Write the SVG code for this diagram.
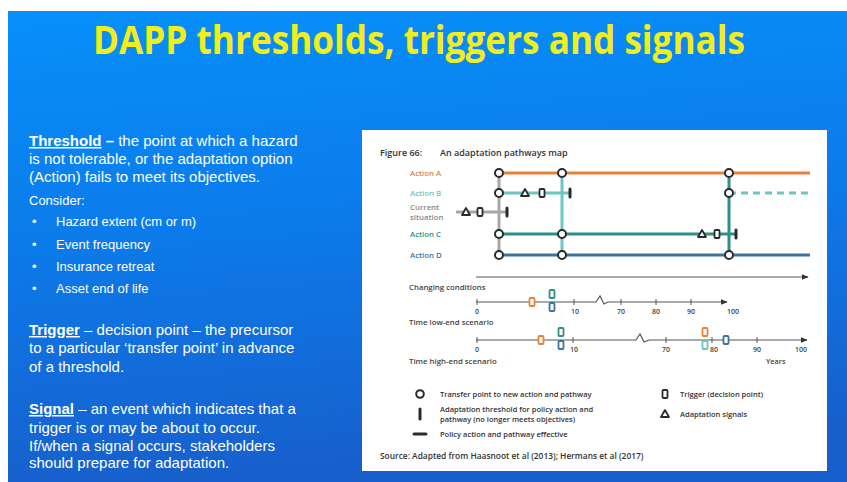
<svg xmlns="http://www.w3.org/2000/svg" width="847" height="482" viewBox="0 0 847 482">
  <defs>
    <linearGradient id="bg" x1="0" y1="0" x2="0.15" y2="1">
      <stop offset="0" stop-color="#0690fb"/>
      <stop offset="0.5" stop-color="#0c7ae9"/>
      <stop offset="1" stop-color="#1760cc"/>
    </linearGradient>
    <marker id="arr" viewBox="0 0 10 10" refX="9" refY="5" markerWidth="7" markerHeight="7" orient="auto" markerUnits="userSpaceOnUse">
      <path d="M0,1 L10,5 L0,9 Z" fill="#333"/>
    </marker>
  </defs>
  <style>
    .title { font-family: "Open Sans", "Liberation Sans", sans-serif; font-weight: bold; fill: #f2ee1c; }
    .body { font-family: "Liberation Sans", Arial, sans-serif; fill: #ffffff; }
    .fig { font-family: "Open Sans", "Liberation Sans", sans-serif; font-weight: 600; fill: #333; }
    .axis { font-family: "Open Sans", "Liberation Sans", sans-serif; font-weight: 600; fill: #444; }
    .tp { fill: #fff; stroke: #2b2b2b; stroke-width: 2; }
    .trig { fill: #fff; stroke: #2b2b2b; stroke-width: 1.8; }
    .sig { fill: #fff; stroke: #2b2b2b; stroke-width: 1.8; stroke-linejoin: round; }
    .thr { stroke: #2b2b2b; stroke-width: 3; stroke-linecap: round; }
    .ax { stroke: #555; stroke-width: 1.2; fill: none; }
    .tick { stroke: #555; stroke-width: 1; }
  </style>

  <!-- slide background -->
  <rect x="0" y="0" width="847" height="482" fill="#ffffff"/>
  <rect x="8" y="11" width="839" height="471" fill="url(#bg)"/>

  <text class="title" x="93" y="54" font-size="39" textLength="652" lengthAdjust="spacingAndGlyphs">DAPP thresholds, triggers and signals</text>

  <!-- left column text -->
  <g id="threshold-text" class="body" font-size="15">
    <text x="29" y="146"><tspan font-weight="bold" text-decoration="underline">Threshold</tspan><tspan font-weight="bold"> –</tspan> the point at which a hazard</text>
    <text x="29" y="164">is not tolerable, or the adaptation option</text>
    <text x="29" y="182">(Action) fails to meet its objectives.</text>
    <text x="29" y="205" font-size="13">Consider:</text>
    <g font-size="13">
      <text x="32" y="226">•</text><text x="56" y="226">Hazard extent (cm or m)</text>
      <text x="32" y="249">•</text><text x="56" y="249">Event frequency</text>
      <text x="32" y="271">•</text><text x="56" y="271">Insurance retreat</text>
      <text x="32" y="293">•</text><text x="56" y="293">Asset end of life</text>
    </g>
  </g>
  <g id="trigger-text" class="body" font-size="15">
    <text x="29" y="335"><tspan font-weight="bold" text-decoration="underline">Trigger</tspan> – decision point – the precursor</text>
    <text x="29" y="353">to a particular ‘transfer point’ in advance</text>
    <text x="29" y="372">of a threshold.</text>
  </g>
  <g id="signal-text" class="body" font-size="15">
    <text x="29" y="414"><tspan font-weight="bold" text-decoration="underline">Signal</tspan> – an event which indicates that a</text>
    <text x="29" y="433">trigger is or may be about to occur.</text>
    <text x="29" y="451">If/when a signal occurs, stakeholders</text>
    <text x="29" y="468">should prepare for adaptation.</text>
  </g>

  <!-- figure panel -->
  <g id="figure">
    <rect x="362" y="130" width="465" height="341" fill="#ffffff"/>
    <text class="fig" x="380" y="156" font-size="9" font-weight="bold">Figure 66:</text>
    <text class="fig" x="440" y="156" font-size="9" font-weight="bold">An adaptation pathways map</text>

    <!-- row labels -->
    <g class="fig" font-size="7.8">
      <text x="410" y="176" fill="#e8823a">Action A</text>
      <text x="410" y="196" fill="#6cc6c2">Action B</text>
      <text x="410" y="210" fill="#888">Current</text>
      <text x="410" y="220" fill="#888">situation</text>
      <text x="410" y="237" fill="#2c8f88">Action C</text>
      <text x="410" y="258" fill="#3b74a0">Action D</text>
    </g>

    <!-- pathway lines -->
    <g id="connectors" fill="none" stroke-width="3">
      <line x1="456" y1="212" x2="506" y2="212" stroke="#a6a6a6"/>
      <line x1="499" y1="173" x2="499" y2="255" stroke="#a6a6a6"/>
      <line x1="562" y1="173" x2="562" y2="255" stroke="#6cc6c2"/>
      <line x1="729" y1="173" x2="729" y2="255" stroke="#2c8f88"/>
      <line x1="499" y1="173" x2="810" y2="173" stroke="#e8823a"/>
      <line x1="499" y1="193" x2="569" y2="193" stroke="#6cc6c2"/>
      <line x1="729" y1="193" x2="810" y2="193" stroke="#6cc6c2" stroke-dasharray="7 5"/>
      <line x1="499" y1="234" x2="736" y2="234" stroke="#2c8f88"/>
      <line x1="499" y1="255" x2="810" y2="255" stroke="#3b74a0"/>
    </g>

    <!-- signals, triggers, thresholds on rows -->
    <g id="current-markers">
      <path class="sig" d="M466,208 L470,215 L462,215 Z"/>
      <rect class="trig" x="477.5" y="208" width="5" height="8" rx="1"/>
      <line class="thr" x1="507" y1="208" x2="507" y2="216"/>
    </g>
    <g id="actionB-markers">
      <path class="sig" d="M525,189 L529,196 L521,196 Z"/>
      <rect class="trig" x="539.5" y="189" width="5" height="8" rx="1"/>
      <line class="thr" x1="570" y1="189" x2="570" y2="197"/>
    </g>
    <g id="actionC-markers">
      <path class="sig" d="M702,230 L706,237 L698,237 Z"/>
      <rect class="trig" x="714.5" y="230" width="5" height="8" rx="1"/>
      <line class="thr" x1="736" y1="230" x2="736" y2="238"/>
    </g>

    <!-- transfer points -->
    <g id="transfer-points">
      <circle class="tp" cx="499" cy="173" r="4"/>
      <circle class="tp" cx="499" cy="193" r="4"/>
      <circle class="tp" cx="499" cy="234" r="4"/>
      <circle class="tp" cx="499" cy="255" r="4"/>
      <circle class="tp" cx="562" cy="173" r="4"/>
      <circle class="tp" cx="562" cy="234" r="4"/>
      <circle class="tp" cx="562" cy="255" r="4"/>
      <circle class="tp" cx="729" cy="173" r="4"/>
      <circle class="tp" cx="729" cy="193" r="4"/>
      <circle class="tp" cx="729" cy="255" r="4"/>
    </g>

    <!-- changing conditions -->
    <g id="changing-conditions">
      <line class="ax" x1="476" y1="277" x2="808" y2="277" marker-end="url(#arr)"/>
      <text class="axis" x="409" y="290" font-size="7.8">Changing conditions</text>
    </g>

    <!-- low-end time axis -->
    <g id="time-low">
      <path class="ax" d="M476,302 L596,302 L600,296 L604,304 L608,302 L727,302" marker-end="url(#arr)"/>
      <g class="tick">
        <line x1="477" y1="299" x2="477" y2="305"/>
        <line x1="574" y1="299" x2="574" y2="305"/>
        <line x1="621" y1="299" x2="621" y2="305"/>
        <line x1="656" y1="299" x2="656" y2="305"/>
        <line x1="691" y1="299" x2="691" y2="305"/>
      </g>
      <g class="axis" text-anchor="middle" font-size="7">
        <text x="477" y="314">0</text>
        <text x="575" y="314">10</text>
        <text x="621" y="314">70</text>
        <text x="656" y="314">80</text>
        <text x="691" y="314">90</text>
        <text x="733" y="314">100</text>
      </g>
      <rect x="529.5" y="298" width="5" height="8" rx="1" fill="#fff" stroke="#e8823a" stroke-width="1.8"/>
      <rect x="549.5" y="290" width="5" height="8" rx="1" fill="#fff" stroke="#2c8f88" stroke-width="1.8"/>
      <rect x="549.5" y="303" width="5" height="8" rx="1" fill="#fff" stroke="#3b74a0" stroke-width="1.8"/>
      <text class="axis" x="409" y="325" font-size="7.8">Time low-end scenario</text>
    </g>

    <!-- high-end time axis -->
    <g id="time-high">
      <path class="ax" d="M476,340 L636,340 L640,334 L644,342 L649,340 L807,340" marker-end="url(#arr)"/>
      <g class="tick">
        <line x1="477" y1="337" x2="477" y2="343"/>
        <line x1="573" y1="337" x2="573" y2="343"/>
        <line x1="666" y1="337" x2="666" y2="343"/>
        <line x1="712" y1="337" x2="712" y2="343"/>
        <line x1="757" y1="337" x2="757" y2="343"/>
      </g>
      <g class="axis" text-anchor="middle" font-size="7">
        <text x="477" y="352">0</text>
        <text x="574" y="352">10</text>
        <text x="666" y="352">70</text>
        <text x="714" y="352">80</text>
        <text x="757" y="352">90</text>
        <text x="801" y="352">100</text>
      </g>
      <rect x="538.5" y="336" width="5" height="8" rx="1" fill="#fff" stroke="#e8823a" stroke-width="1.8"/>
      <rect x="558.5" y="328" width="5" height="8" rx="1" fill="#fff" stroke="#2c8f88" stroke-width="1.8"/>
      <rect x="558.5" y="341" width="5" height="8" rx="1" fill="#fff" stroke="#3b74a0" stroke-width="1.8"/>
      <rect x="702.5" y="328" width="5" height="8" rx="1" fill="#fff" stroke="#e8823a" stroke-width="1.8"/>
      <rect x="702.5" y="341" width="5" height="8" rx="1" fill="#fff" stroke="#6cc6c2" stroke-width="1.8"/>
      <rect x="723.5" y="336" width="5" height="8" rx="1" fill="#fff" stroke="#3b74a0" stroke-width="1.8"/>
      <text class="axis" x="766" y="364" font-size="7.3">Years</text>
      <text class="axis" x="409" y="364" font-size="7.8">Time high-end scenario</text>
    </g>

    <!-- legend -->
    <g id="legend">
      <circle class="tp" cx="420" cy="394" r="3.8"/>
      <text class="fig" x="440" y="396.5" font-size="7.5">Transfer point to new action and pathway</text>
      <line class="thr" x1="420" y1="409" x2="420" y2="419"/>
      <text class="fig" x="440" y="411.5" font-size="7.5">Adaptation threshold for policy action and</text>
      <text class="fig" x="440" y="421.5" font-size="7.5">pathway (no longer meets objectives)</text>
      <line x1="414" y1="434" x2="426" y2="434" stroke="#2b2b2b" stroke-width="3" stroke-linecap="round"/>
      <text class="fig" x="440" y="436.5" font-size="7.5">Policy action and pathway effective</text>
      <rect class="trig" x="662.5" y="390" width="5" height="8" rx="1"/>
      <text class="fig" x="680" y="396.5" font-size="7.5">Trigger (decision point)</text>
      <path class="sig" d="M665,410 L669,417 L661,417 Z"/>
      <text class="fig" x="680" y="416.5" font-size="7.5">Adaptation signals</text>
      <text class="fig" x="380" y="459" font-size="8.4" font-weight="normal">Source: Adapted from Haasnoot et al (2013); Hermans et al (2017)</text>
    </g>
  </g>
</svg>
